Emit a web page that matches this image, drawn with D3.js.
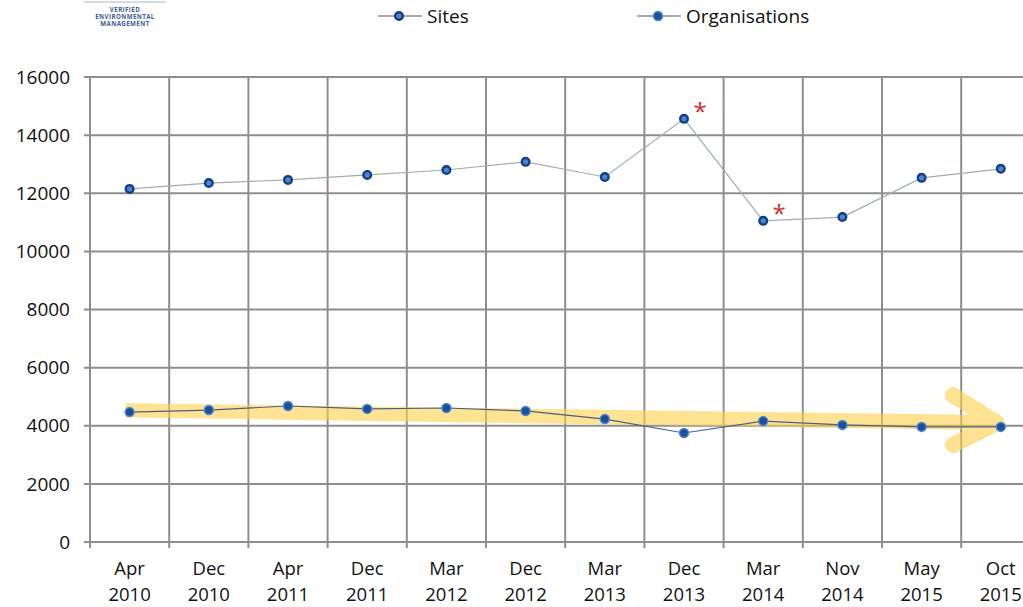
<!DOCTYPE html>
<html>
<head>
<meta charset="utf-8">
<style>
body { margin: 0; background: #fff; }
text { font-family: "Open Sans", "Liberation Sans", sans-serif; }
</style>
</head>
<body>
<svg width="1023" height="607"></svg>
<script src="https://d3js.org/d3.v7.min.js"></script>
<script>

var months = ["Apr", "Dec", "Apr", "Dec", "Mar", "Dec", "Mar", "Dec", "Mar", "Nov", "May", "Oct"];
var years = ["2010", "2010", "2011", "2011", "2012", "2012", "2013", "2013", "2014", "2014", "2015", "2015"];
var sites = [12150, 12350, 12460, 12630, 12800, 13080, 12560, 14560, 11050, 11180, 12530, 12840];
var organisations = [4470, 4540, 4680, 4580, 4610, 4510, 4230, 3750, 4160, 4030, 3960, 3960];
var yTicks = [0, 2000, 4000, 6000, 8000, 10000, 12000, 14000, 16000];
var flagged = [7, 8]; // points marked with a red asterisk
var trend = [4530, 4060]; // yellow arrow, first to last category

var svg = d3.select("svg"),
    margin = {top: 77, left: 90, bottom: 65},
    step = 79.2,
    height = 607 - margin.top - margin.bottom;

var cats = months.map(function(m, i) { return m + " " + years[i]; });

var x = d3.scaleBand().domain(cats).range([margin.left, margin.left + step * cats.length]);
var y = d3.scaleLinear().domain([0, 16000]).range([margin.top + height, margin.top]);
var cx = function(i) { return x(cats[i]) + x.bandwidth() / 2; };

var grid = svg.append("g").attr("stroke", "#8e8e8e").attr("stroke-width", 2);

// horizontal grid + left ticks
grid.selectAll(".h").data(yTicks).enter().append("line")
    .attr("x1", margin.left - 6).attr("x2", margin.left + step * cats.length)
    .attr("y1", function(d) { return y(d); }).attr("y2", function(d) { return y(d); });

// vertical grid at band edges
var edges = cats.map(function(c) { return x(c); }).concat([x.range()[1]]);
grid.selectAll(".v").data(edges).enter().append("line")
    .attr("x1", function(d) { return d; }).attr("x2", function(d) { return d; })
    .attr("y1", y(16000)).attr("y2", y(0) + 6);

// y labels
svg.append("g").selectAll("text").data(yTicks).enter().append("text")
    .attr("x", margin.left - 20)
    .attr("y", function(d) { return y(d); })
    .attr("dy", "0.35em")
    .attr("text-anchor", "end")
    .attr("font-size", 19)
    .attr("fill", "#111")
    .text(function(d) { return d; });

// x labels
var xl = svg.append("g").selectAll("text").data(cats).enter().append("text")
    .attr("text-anchor", "middle")
    .attr("font-size", 18.5)
    .attr("fill", "#111");
xl.append("tspan").attr("x", function(d, i) { return cx(i); }).attr("y", 575)
    .text(function(d, i) { return months[i]; });
xl.append("tspan").attr("x", function(d, i) { return cx(i); }).attr("y", 601)
    .text(function(d, i) { return years[i]; });

// trend arrow
var ax0 = cx(0) - 4, ax1 = cx(cats.length - 1) + 2,
    ay0 = y(trend[0]), ay1 = y(trend[1]);
var arrow = svg.append("g").attr("opacity", 0.6);
arrow.append("path")
    .attr("fill", "#fcd04a")
    .attr("d", "M" + ax0 + "," + (ay0 - 7) + "L" + (ax1 - 20) + "," + (ay1 - 9) +
          "L" + (ax1 - 20) + "," + (ay1 + 6) + "L" + ax0 + "," + (ay0 + 7) + "Z");
arrow.append("path")
    .attr("fill", "none")
    .attr("stroke", "#fcd04a")
    .attr("stroke-width", 16)
    .attr("stroke-linecap", "round")
    .attr("stroke-linejoin", "round")
    .attr("d", "M" + (ax1 - 50) + "," + (ay1 - 29) + "L" + (ax1 - 6) + "," + (ay1 - 1) +
          "L" + (ax1 - 50) + "," + (ay1 + 21));

var line = d3.line()
    .x(function(d, i) { return cx(i); })
    .y(function(d) { return y(d); });

// organisations
svg.append("path").datum(organisations)
    .attr("fill", "none").attr("stroke", "#4d5f86").attr("stroke-width", 1.2)
    .attr("d", line);
svg.append("g").selectAll("circle").data(organisations).enter().append("circle")
    .attr("cx", function(d, i) { return cx(i); })
    .attr("cy", function(d) { return y(d); })
    .attr("r", 4.5)
    .attr("fill", "#1c4f9c")
    .attr("stroke", "#4f8ad0").attr("stroke-width", 1.5);

// sites
svg.append("path").datum(sites)
    .attr("fill", "none").attr("stroke", "#9fb1a6").attr("stroke-width", 1.2)
    .attr("d", line);
svg.append("g").selectAll("circle").data(sites).enter().append("circle")
    .attr("cx", function(d, i) { return cx(i); })
    .attr("cy", function(d) { return y(d); })
    .attr("r", 3.8)
    .attr("fill", "#4e86c9")
    .attr("stroke", "#0f3f8c").attr("stroke-width", 2.4);

// asterisks
svg.append("g").selectAll("text").data(flagged).enter().append("text")
    .attr("x", function(i) { return cx(i) + 16; })
    .attr("y", function(i) { return y(sites[i]) + 1; })
    .attr("text-anchor", "middle")
    .attr("font-size", 24)
    .attr("fill", "#d42a2a")
    .text("*");

// legend
var legend = [
  {name: "Sites", x: 378, fill: "#4e86c9", stroke: "#0f3f8c", r: 3.8, sw: 2.4},
  {name: "Organisations", x: 637, fill: "#1c4f9c", stroke: "#4f8ad0", r: 4.5, sw: 1.5}
];
var lg = svg.append("g").selectAll("g").data(legend).enter().append("g")
    .attr("transform", function(d) { return "translate(" + d.x + ",16)"; });
lg.append("line").attr("x1", 0).attr("x2", 44).attr("stroke", "#556").attr("stroke-width", 1.2);
lg.append("circle").attr("cx", 21).attr("r", function(d) { return d.r; })
    .attr("fill", function(d) { return d.fill; })
    .attr("stroke", function(d) { return d.stroke; })
    .attr("stroke-width", function(d) { return d.sw; });
lg.append("text").attr("x", 49).attr("dy", "0.35em").attr("font-size", 19).attr("fill", "#111")
    .text(function(d) { return d.name; });

// logo remnant
var logo = svg.append("g").attr("fill", "#3d5c9a").attr("font-size", 6.2)
    .attr("font-weight", "bold").attr("letter-spacing", 0.4).attr("text-anchor", "middle");
svg.append("line").attr("x1", 84).attr("x2", 166).attr("y1", 2).attr("y2", 2)
    .attr("stroke", "#a8b4cc").attr("stroke-width", 1);
["VERIFIED", "ENVIRONMENTAL", "MANAGEMENT"].forEach(function(t, i) {
  logo.append("text").attr("x", 125).attr("y", 12 + i * 7).text(t);
});

</script>
</body>
</html>
